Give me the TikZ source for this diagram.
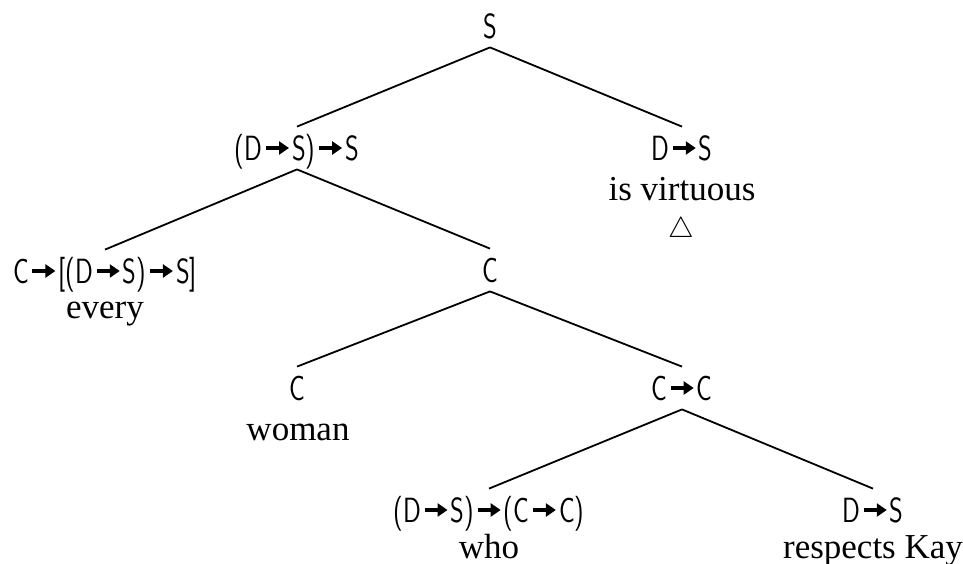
\documentclass[tikz,border=0pt]{standalone}
\usepackage{fontspec}
\setmainfont{Liberation Serif}
\newfontfamily\catfont[FakeStretch=0.75]{lmsans17-regular.otf}
\usetikzlibrary{arrows.meta}
\def\treeStroke{0.9pt}
% thick arrow inside category labels
\newcommand{\catarrow}{\hspace{0.8pt}\tikz[baseline=-6pt]\draw[line width=2pt,-{Triangle[length=5pt,width=6.5pt]}] (0pt,0pt) -- (11.5pt,0pt);\hspace{0.6pt}}

\begin{document}
\begin{tikzpicture}[x=0.5pt, y=-0.5pt,
  cat/.style={font=\catfont\fontsize{17.5}{20}\selectfont, anchor=base,
    text height=12pt, text depth=0pt, inner xsep=0pt, inner ysep=4.5pt},
  word/.style={font=\fontsize{17.5}{20}\selectfont, anchor=base, inner sep=0pt},
  edge/.style={draw, line width=\treeStroke}]

\useasboundingbox (0,0) rectangle (963,563);

% Category labels
\node[cat] (s)      at (490,38)  {S};
\node[cat] (dss)    at (297,160) {(D\catarrow S)\catarrow S};
\node[cat] (virtc)  at (682,160) {D\catarrow S};
\node[cat] (everyc) at (105,283) {C\catarrow[(D\catarrow S)\catarrow S]};
\node[cat] (c)      at (490,282) {C};
\node[cat] (womanc) at (297,400) {C};
\node[cat] (cc)     at (682,400) {C\catarrow C};
\node[cat] (whoc)   at (489,522) {(D\catarrow S)\catarrow(C\catarrow C)};
\node[cat] (kayc)   at (873,522) {D\catarrow S};

% Words
\node[word] (virt)  at (682,200) {is virtuous};
\node[word, font=\fontsize{15}{18}\selectfont] (tri) at (681,237) {$\bigtriangleup$};
\node[word] (every) at (105,318) {every};
\node[word] (woman) at (298,440) {woman};
\node[word] (who)   at (489,558) {who};
\node[word] (kay)   at (873,558) {respects Kay};

% Branches
\draw[edge] (s.south) -- (dss.north);
\draw[edge] (s.south) -- (virtc.north);
\draw[edge] (dss.south) -- (everyc.north);
\draw[edge] (dss.south) -- (c.north);
\draw[edge] (c.south) -- (womanc.north);
\draw[edge] (c.south) -- (cc.north);
\draw[edge] (cc.south) -- (whoc.north);
\draw[edge] (cc.south) -- (kayc.north);

\end{tikzpicture}
\end{document}
